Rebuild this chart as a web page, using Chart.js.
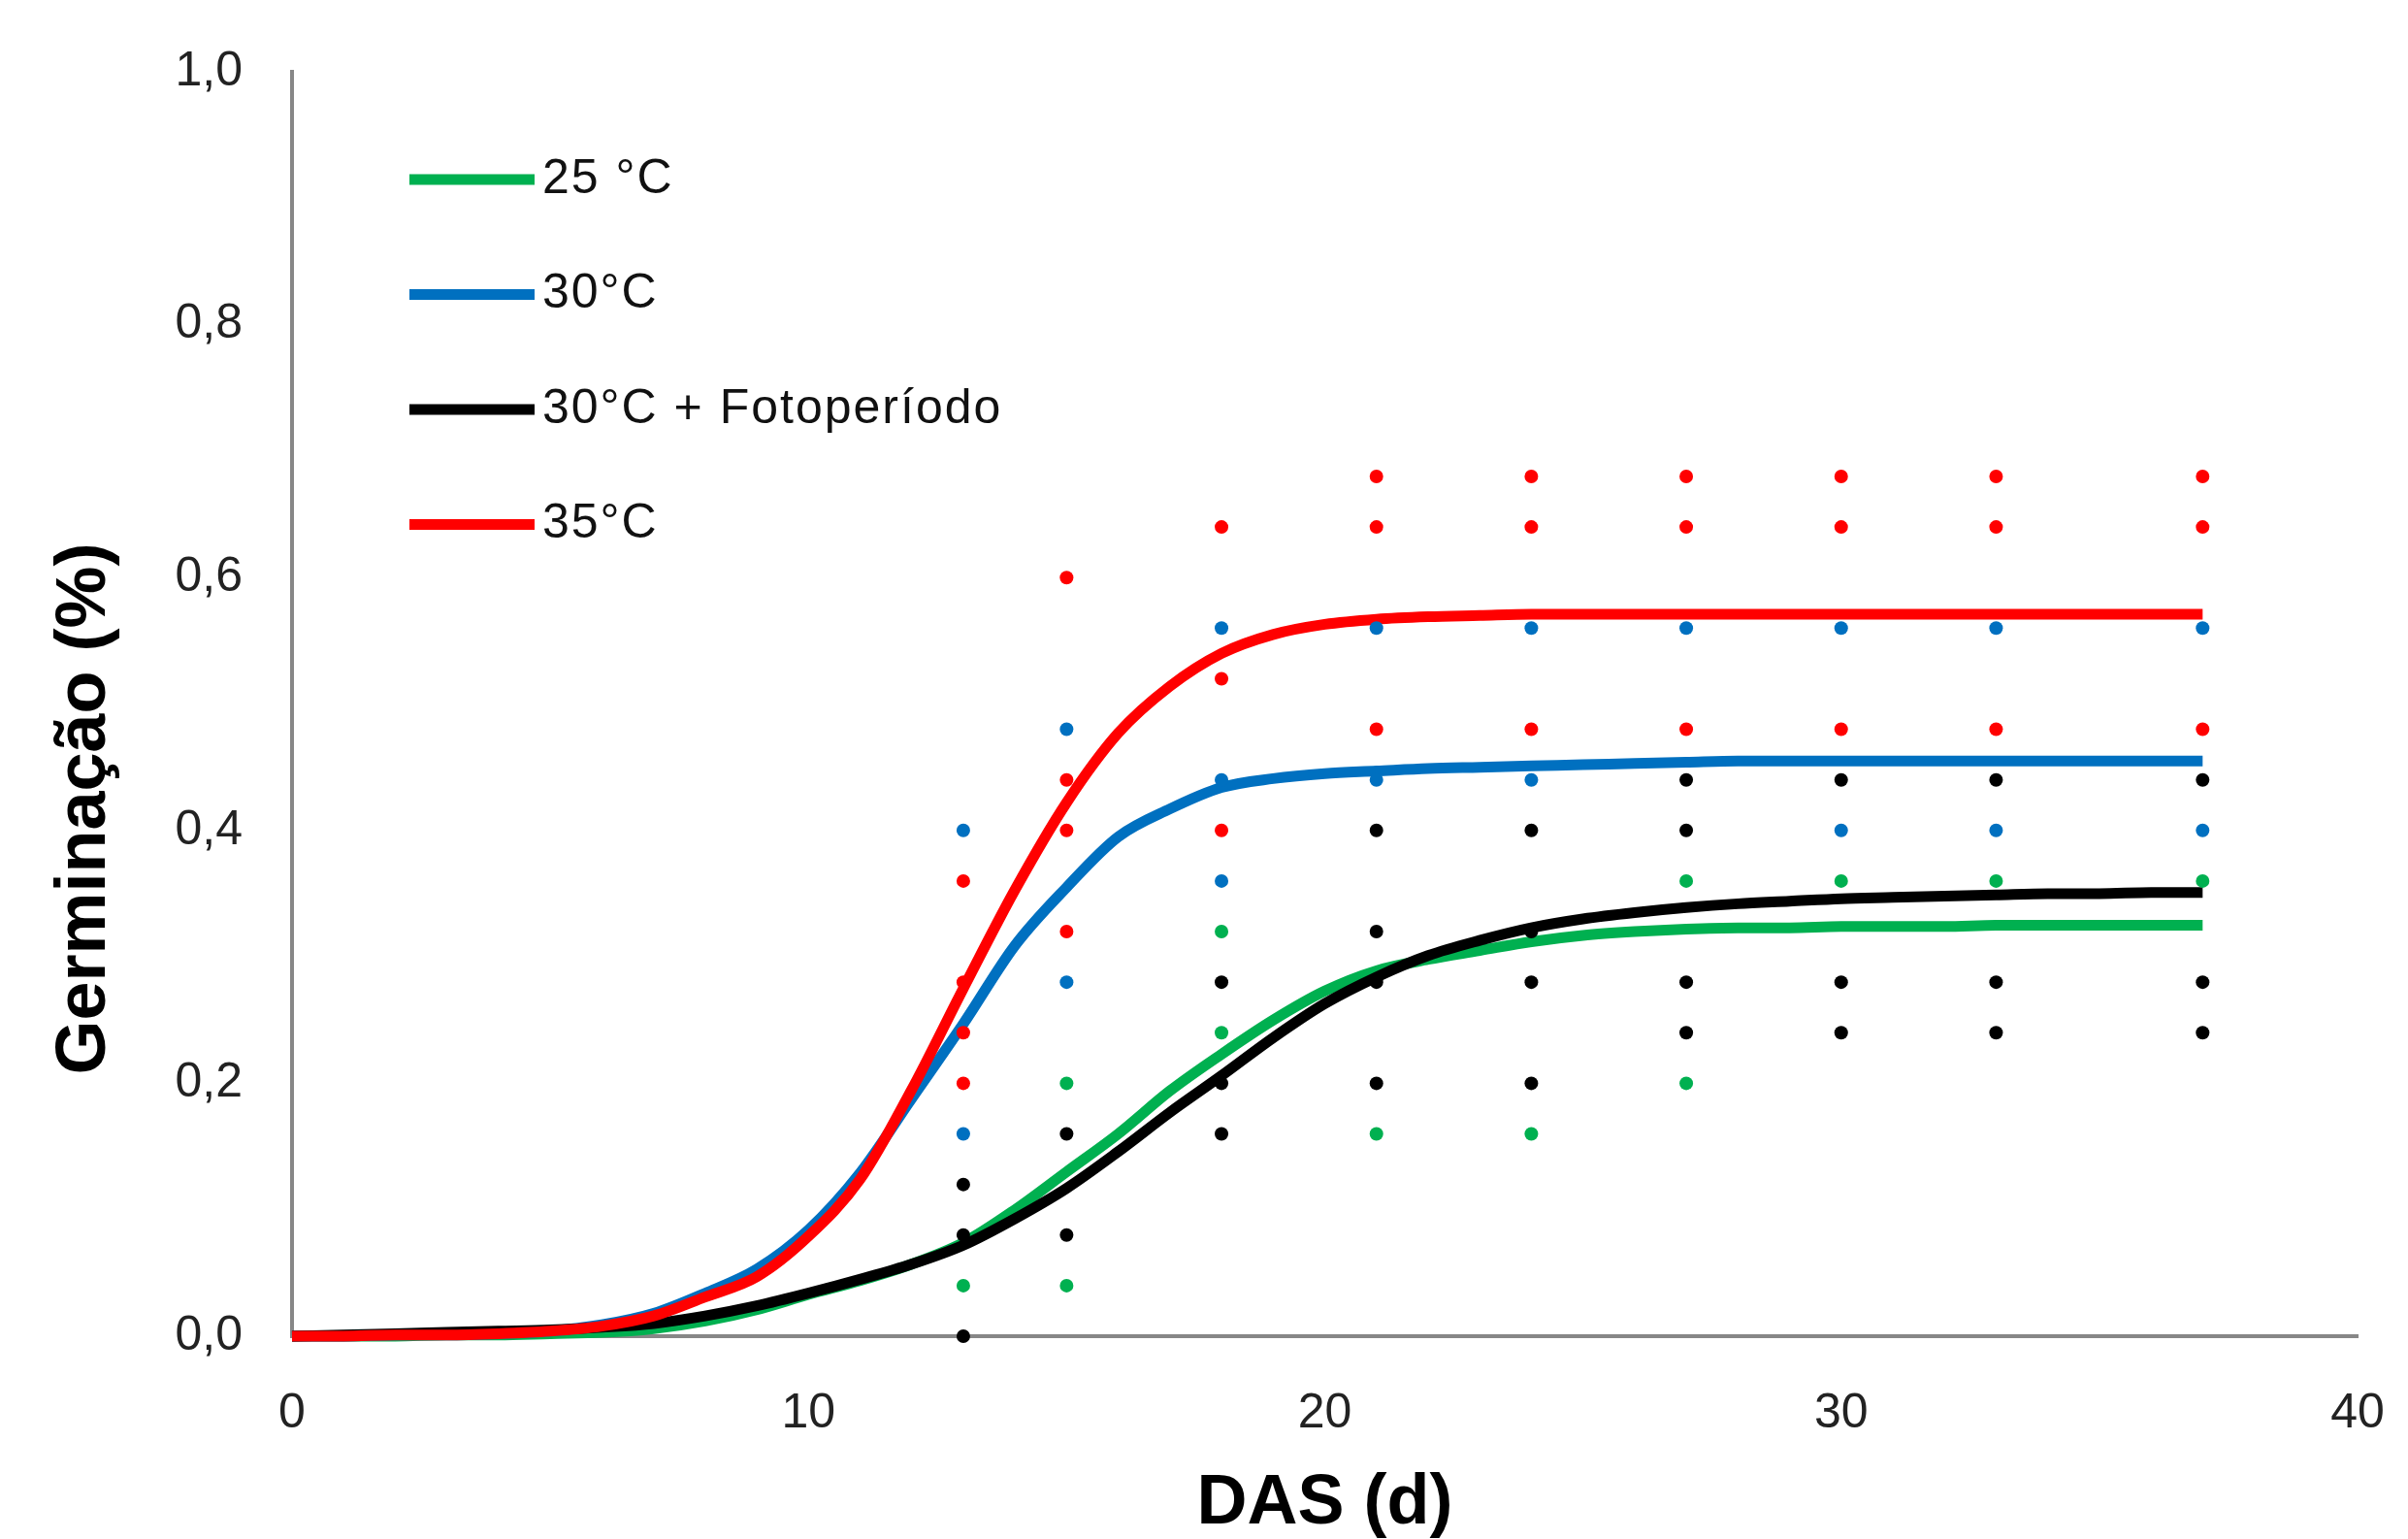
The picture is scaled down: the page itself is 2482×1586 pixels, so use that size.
<!DOCTYPE html>
<html>
<head>
<meta charset="utf-8">
<script src="https://cdn.jsdelivr.net/npm/chart.js@4.4.1/dist/chart.umd.min.js"></script>
<style>
  html, body { margin: 0; padding: 0; background: #ffffff; }
  #wrap { width: 2482px; height: 1586px; position: relative; }
</style>
</head>
<body>
<div id="wrap"><canvas id="c" width="2482" height="1586"></canvas></div>
<script>
// ---------------- DATA ----------------
const seriesNames = ['25 °C', '30°C', '30°C + Fotoperíodo', '35°C'];
const seriesColors = ['#00B050', '#0070C0', '#000000', '#FF0000'];

const curveDays = [0,1,2,3,4,5,6,7,8,9,10,11,12,13,14,15,16,17,18,19,20,21,22,23,24,25,26,27,28,29,30,31,32,33,34,35,36,37];

const fit25 = [0,0,0,0.001,0.001,0.002,0.003,0.006,0.012,0.021,0.033,0.044,0.057,0.074,0.100,0.130,0.160,0.194,0.223,0.250,0.273,0.289,0.298,0.305,0.312,0.317,0.320,0.322,0.323,0.323,0.324,0.324,0.324,0.325,0.325,0.325,0.325,0.325];
const fit30 = [0,0,0.001,0.001,0.002,0.004,0.009,0.018,0.034,0.053,0.084,0.129,0.188,0.247,0.309,0.355,0.395,0.417,0.434,0.441,0.445,0.447,0.449,0.450,0.451,0.452,0.453,0.454,0.455,0.455,0.455,0.455,0.455,0.455,0.455,0.455,0.455,0.455];
const fit30F = [0,0.001,0.002,0.003,0.004,0.005,0.007,0.010,0.016,0.024,0.034,0.045,0.057,0.072,0.093,0.117,0.146,0.177,0.206,0.236,0.263,0.284,0.301,0.313,0.323,0.330,0.335,0.339,0.342,0.344,0.346,0.347,0.348,0.349,0.350,0.350,0.351,0.351];
const fit35 = [0,0,0.001,0.001,0.002,0.004,0.008,0.016,0.031,0.047,0.079,0.124,0.195,0.275,0.353,0.422,0.477,0.514,0.540,0.555,0.563,0.567,0.569,0.570,0.571,0.571,0.571,0.571,0.571,0.571,0.571,0.571,0.571,0.571,0.571,0.571,0.571,0.571];

const obsDays = [13, 15, 18, 21, 24, 27, 30, 33, 37];
const obs25  = [[0.04],[0.20,0.04],[0.32,0.24],[0.16],[0.16],[0.36,0.20],[0.36],[0.36],[0.36]];
const obs30  = [[0.40,0.16],[0.48,0.28],[0.56,0.44,0.36],[0.56,0.44],[0.56,0.44],[0.56],[0.56,0.40],[0.56,0.40],[0.56,0.40]];
const obs30F = [[0.12,0.08,0],[0.16,0.08],[0.28,0.20,0.16],[0.40,0.32,0.28,0.20],[0.40,0.32,0.28,0.20],[0.44,0.40,0.28,0.24],[0.44,0.28,0.24],[0.44,0.28,0.24],[0.44,0.28,0.24]];
const obs35  = [[0.36,0.28,0.24,0.20],[0.60,0.44,0.40,0.32],[0.64,0.52,0.40],[0.68,0.64,0.48],[0.68,0.64,0.48],[0.68,0.64,0.48],[0.68,0.64,0.48],[0.68,0.64,0.48],[0.68,0.64,0.48]];

const xTickValues = [0, 10, 20, 30, 40];
const yTickValues = [0, 0.2, 0.4, 0.6, 0.8, 1.0];
const xTitle = 'DAS (d)';
const yTitle = 'Germinação (%)';

// ---------------- BUILD ----------------
const curveSets = [fit25, fit30, fit30F, fit35];
const obsSets = [obs25, obs30, obs30F, obs35];
const lineOrder = [8, 7, 6, 5];   // lower order is drawn on top
const dotOrder  = [4, 2, 1, 3];

const toCurve = arr => curveDays.map((d, i) => ({ x: d, y: arr[i] }));
const toObs = arr => {
  const pts = [];
  obsDays.forEach((d, i) => arr[i].forEach(v => pts.push({ x: d, y: v })));
  return pts;
};

const datasets = [];
seriesNames.forEach((name, i) => {
  datasets.push({
    label: name,
    data: toCurve(curveSets[i]),
    showLine: true,
    borderColor: seriesColors[i],
    backgroundColor: seriesColors[i],
    borderWidth: 11,
    borderJoinStyle: 'round',
    pointRadius: 0,
    cubicInterpolationMode: 'monotone',
    fill: false,
    order: lineOrder[i],
    clip: false
  });
  datasets.push({
    label: name + ' (obs)',
    data: toObs(obsSets[i]),
    showLine: false,
    pointRadius: 7,
    pointBorderWidth: 0,
    backgroundColor: seriesColors[i],
    borderColor: seriesColors[i],
    order: dotOrder[i],
    clip: false
  });
});

const fmtComma = v => Number(v).toFixed(1).replace('.', ',');
const noScalePadding = s => { s.paddingTop = 0; s.paddingBottom = 0; s.paddingLeft = 0; s.paddingRight = 0; };

const inlineLegend = {
  id: 'inlineLegend',
  afterDraw(chart, args, opts) {
    const { ctx, chartArea } = chart;
    ctx.save();
    ctx.font = opts.font;
    if ('letterSpacing' in ctx) ctx.letterSpacing = opts.letterSpacing;
    ctx.textAlign = 'left';
    ctx.textBaseline = 'middle';
    seriesNames.forEach((name, i) => {
      const y = chartArea.top + opts.firstRow + i * opts.rowGap;
      const x0 = chartArea.left + opts.lineStart;
      ctx.strokeStyle = seriesColors[i];
      ctx.lineWidth = opts.lineWidth;
      ctx.lineCap = 'butt';
      ctx.beginPath();
      ctx.moveTo(x0, y);
      ctx.lineTo(x0 + opts.lineLen, y);
      ctx.stroke();
      ctx.fillStyle = opts.color;
      ctx.fillText(name, x0 + opts.lineLen + opts.gap, y);
    });
    ctx.restore();
  }
};

const sideTitle = {
  id: 'sideTitle',
  afterDraw(chart, args, opts) {
    const { ctx, chartArea } = chart;
    ctx.save();
    ctx.translate(opts.x, (chartArea.top + chartArea.bottom) / 2 + opts.shift);
    ctx.rotate(-Math.PI / 2);
    ctx.font = opts.font;
    ctx.fillStyle = opts.color;
    ctx.textAlign = 'center';
    ctx.textBaseline = 'middle';
    ctx.fillText(yTitle, 0, 0);
    ctx.restore();
  }
};

const tickFont = { family: '"Liberation Sans", Arial, sans-serif', size: 50 };

new Chart(document.getElementById('c'), {
  type: 'scatter',
  data: { datasets },
  options: {
    responsive: false,
    animation: false,
    devicePixelRatio: 1,
    layout: { padding: { left: 0, top: 74, right: 52, bottom: 0 } },
    plugins: {
      legend: { display: false },
      tooltip: { enabled: false },
      inlineLegend: { font: '50px "Liberation Sans", Arial, sans-serif', letterSpacing: '2px', color: '#111111', firstRow: 111, rowGap: 118.5, lineStart: 121, lineLen: 129, gap: 8, lineWidth: 11 },
      sideTitle: { x: 88, shift: 108, font: 'bold 72px "Liberation Sans", Arial, sans-serif', color: '#000000' }
    },
    scales: {
      x: {
        type: 'linear',
        min: 0, max: 40,
        afterBuildTicks: s => { s.ticks = xTickValues.map(v => ({ value: v })); },
        afterFit: s => { s.height = 209; noScalePadding(s); },
        ticks: { font: tickFont, color: '#222222', padding: 50, maxRotation: 0, autoSkip: false },
        grid: { display: false, drawTicks: false, tickLength: 0 },
        border: { display: true, color: '#878787', width: 4 },
        title: { display: true, text: xTitle, color: '#000000', font: { family: '"Liberation Sans", Arial, sans-serif', size: 72, weight: 'bold', lineHeight: 1 }, padding: { top: 0, bottom: 0 } }
      },
      y: {
        type: 'linear',
        min: 0, max: 1,
        afterBuildTicks: s => { s.ticks = yTickValues.map(v => ({ value: v })); },
        afterFit: s => { s.width = 301; noScalePadding(s); },
        ticks: { font: tickFont, color: '#222222', padding: 51, callback: v => fmtComma(v) },
        grid: { display: false, drawTicks: false, tickLength: 0 },
        border: { display: true, color: '#878787', width: 4 }
      }
    }
  },
  plugins: [inlineLegend, sideTitle]
});
</script>
</body>
</html>
